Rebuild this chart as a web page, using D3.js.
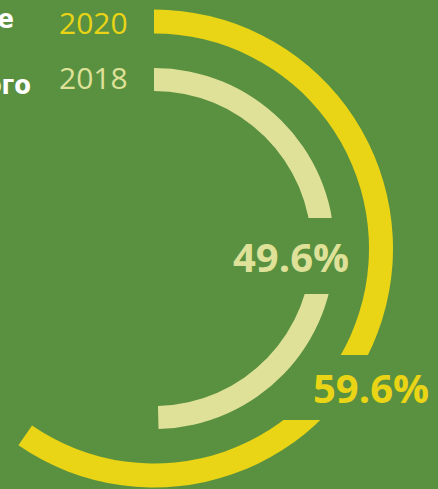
<!DOCTYPE html>
<html><head><meta charset="utf-8">
<script src="https://cdn.jsdelivr.net/npm/d3@7"></script>
<style>html,body{margin:0;padding:0;background:#5a9140;overflow:hidden}</style>
</head><body>
<script>
const years = ["2020", "2018"];
const values = [59.6, 49.6];
const sideLabels = ["е", "ого"];
const colors = ["#ead416", "#dfe199"];
const bg = "#5a9140";

const W = 438, H = 489;
const svg = d3.select("body").append("svg").attr("width", W).attr("height", H);
svg.append("rect").attr("width", W).attr("height", H).attr("fill", bg);

const cx = 154, cy = 248.5;
const angle = d3.scaleLinear().domain([0, 100]).range([0, 2 * Math.PI]);
const rings = [{outer: 239, inner: 215}, {outer: 180.5, inner: 157.5}];
const arc = d3.arc();

const valPos = [{x: 313, y: 403, rx: 274, ry: 355, rw: 164, rh: 65}, {x: 233, y: 272, rx: 222, ry: 218, rw: 135, rh: 76}];

// draw each ring, then its label mask and label (outer first so inner ring is not cut)
years.forEach((y, i) => {
  svg.append("path")
    .attr("transform", `translate(${cx},${cy})`)
    .attr("d", arc({innerRadius: rings[i].inner, outerRadius: rings[i].outer, startAngle: 0, endAngle: angle(values[i])}))
    .attr("fill", colors[i]);
  const p = valPos[i];
  svg.append("rect").attr("x", p.rx).attr("y", p.ry).attr("width", p.rw).attr("height", p.rh).attr("fill", bg);
  svg.append("text").attr("x", p.x).attr("y", p.y)
    .attr("font-family", "'Open Sans', sans-serif").attr("font-weight", 700)
    .attr("font-size", 40).attr("fill", colors[i]).text(values[i].toFixed(1) + "%");
});

// year labels
const yearY = [34, 89];
years.forEach((y, i) => {
  svg.append("text").attr("x", 59).attr("y", yearY[i])
    .attr("font-family", "'Open Sans', sans-serif").attr("font-weight", 400)
    .attr("font-size", 30).attr("fill", colors[i]).text(y);
});

// side labels (clipped at the left edge, as in the reference)
const sideX = [14, 31], sideY = [28, 94];
sideLabels.forEach((s, i) => {
  svg.append("text").attr("x", sideX[i]).attr("y", sideY[i]).attr("text-anchor", "end")
    .attr("font-family", "'Liberation Sans Narrow', 'DejaVu Sans Condensed', sans-serif").attr("font-weight", 700)
    .attr("font-size", 27).attr("fill", "#ffffff").text(s);
});
</script>
</body></html>
